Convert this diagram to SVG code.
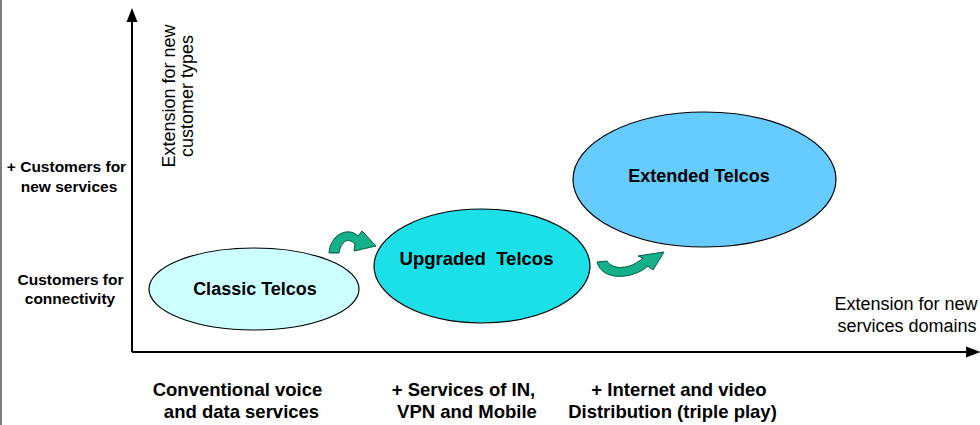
<svg xmlns="http://www.w3.org/2000/svg" width="980" height="425" viewBox="0 0 980 425">
<style>
  .lbl { font-family: "Liberation Sans", Arial, sans-serif; font-weight: bold; fill: #000; }
  .reg { font-family: "Liberation Sans", Arial, sans-serif; fill: #000; font-size: 18px; }
  .node { stroke: #000; stroke-width: 1.2; }
  .curl { fill: #14B08A; stroke: #005A3C; stroke-width: 1; stroke-linejoin: round; }
  .axis { stroke: #000; stroke-width: 2; fill: none; }
</style>
<rect x="0" y="0" width="980" height="425" fill="#fff"/>
<line x1="1" y1="0" x2="1" y2="425" stroke="#808080" stroke-width="2"/>

<g id="axes">
  <line class="axis" x1="132" y1="352" x2="132" y2="20"/>
  <polygon points="132,8 126.5,22 137.5,22" fill="#000"/>
  <line class="axis" x1="132" y1="352" x2="968" y2="352"/>
  <polygon points="981,352 966,346.5 966,357.5" fill="#000"/>
</g>

<g id="axis-labels">
  <g transform="translate(175,96) rotate(-90)">
    <text class="reg" text-anchor="middle" x="0" y="0">Extension for new</text>
    <text class="reg" text-anchor="middle" x="0" y="18">customer types</text>
  </g>
  <text class="reg" text-anchor="middle" x="906" y="310">Extension for new</text>
  <text class="reg" text-anchor="middle" x="907" y="332">services domains</text>
</g>

<g id="y-labels" class="lbl" font-size="15.5" text-anchor="middle">
  <text x="66.5" y="172">+ Customers for</text>
  <text x="69" y="192">new services</text>
  <text x="70.5" y="285">Customers for</text>
  <text x="70" y="304">connectivity</text>
</g>

<g id="x-labels" class="lbl" font-size="18.5" text-anchor="middle">
  <text x="237.5" y="396">Conventional voice</text>
  <text x="241.5" y="418">and data services</text>
  <text x="463.5" y="396">+ Services of IN,</text>
  <text x="467" y="418">VPN and Mobile</text>
  <text x="679" y="396">+ Internet and video</text>
  <text x="672.5" y="418">Distribution (triple play)</text>
</g>

<g id="node-classic">
  <ellipse class="node" cx="254" cy="289" rx="105" ry="41" fill="#CCFFFF"/>
  <text class="lbl" font-size="18" text-anchor="middle" x="255" y="295">Classic Telcos</text>
</g>

<g id="node-upgraded">
  <ellipse class="node" cx="482" cy="266" rx="108" ry="57" fill="#1CE0E8"/>
  <text class="lbl" font-size="18.5" text-anchor="middle" x="476.5" y="265" xml:space="preserve">Upgraded  Telcos</text>
</g>

<g id="node-extended">
  <ellipse class="node" cx="704.5" cy="179.5" rx="131.5" ry="67.5" fill="#66CCFF"/>
  <text class="lbl" font-size="18" text-anchor="middle" x="699" y="182">Extended Telcos</text>
</g>

<g id="connectors">
  <path class="curl" d="M329,253 C330,235 348,226 358,236 L362,231 L376,246 L354,251 L355,244 C348,237 341,241 339,253 Z"/>
  <path class="curl" d="M597,262 C602,281 632,280 648,266 L653,270 L664,252 L638,256 L643,258 C630,270 612,270 607,261 Z"/>
</g>
</svg>
